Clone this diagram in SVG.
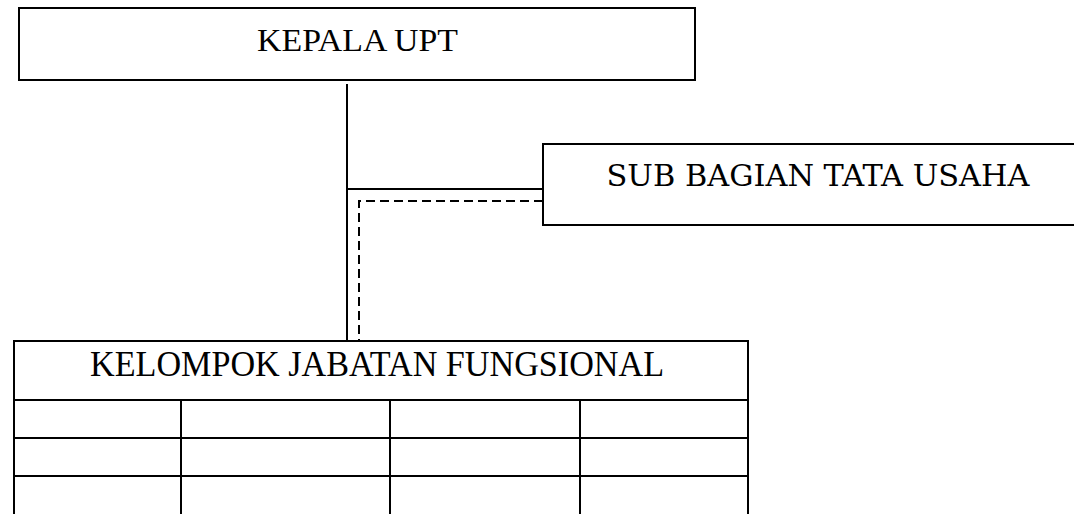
<svg xmlns="http://www.w3.org/2000/svg" width="1074" height="514" viewBox="0 0 1074 514">
<style>
.box{fill:#fff;stroke:#000;stroke-width:2}
.ln{stroke:#000;stroke-width:2;fill:none}
.dash{stroke:#000;stroke-width:2;fill:none;stroke-dasharray:9 5}
.t1{font-family:"Liberation Serif",serif;font-size:32px;fill:#000;text-anchor:middle}
.t2{font-family:"DejaVu Serif",serif;font-size:30px;fill:#000;text-anchor:middle}
</style>
<rect width="1074" height="514" fill="#fff"/>
<g id="connectors">
<line class="ln" x1="347" y1="84" x2="347" y2="341"/>
<line class="ln" x1="348" y1="189" x2="543" y2="189"/>
<path class="dash" d="M543 201 H359 V341"/>
</g>
<g id="kepala">
<rect class="box" x="19" y="8" width="676" height="72"/>
<text class="t1" x="357.5" y="51" textLength="201" lengthAdjust="spacingAndGlyphs">KEPALA UPT</text>
</g>
<g id="subbagian">
<rect class="box" x="543" y="144" width="540" height="81"/>
<text class="t2" x="818" y="186" textLength="423" lengthAdjust="spacingAndGlyphs">SUB BAGIAN TATA USAHA</text>
</g>
<g id="kelompok">
<rect class="box" x="14" y="341" width="734" height="190"/>
<text class="t1" x="377" y="376" style="font-size:35px" textLength="574" lengthAdjust="spacingAndGlyphs">KELOMPOK JABATAN FUNGSIONAL</text>
<line class="ln" x1="14" y1="400" x2="748" y2="400"/>
<line class="ln" x1="14" y1="438" x2="748" y2="438"/>
<line class="ln" x1="14" y1="476" x2="748" y2="476"/>
<line class="ln" x1="181" y1="400" x2="181" y2="514"/>
<line class="ln" x1="390" y1="400" x2="390" y2="514"/>
<line class="ln" x1="580" y1="400" x2="580" y2="514"/>
</g>
</svg>
